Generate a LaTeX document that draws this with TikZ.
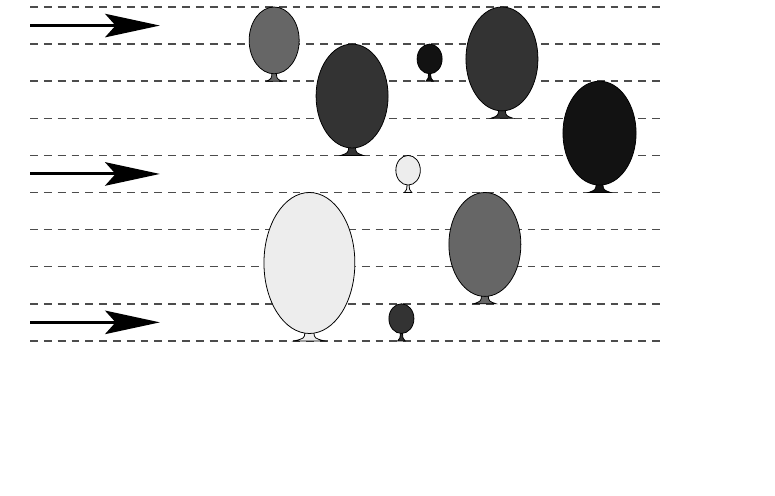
\documentclass[tikz,border=0pt]{standalone}
\usetikzlibrary{arrows.meta}

\tikzset{
  guide/.style={draw=black!70, line width=1.2pt, dash pattern=on 6pt off 4.6pt},
  windarrow/.style={line width=2.3pt, -{Stealth[length=42pt,width=18pt,inset=8pt]}},
  balloonedge/.style={draw=black, line width=0.6pt}
}

% cx, top, size, x radius, fill
\newcommand{\balloon}[5]{%
  \draw[balloonedge, fill=#5] ({#1-0.03*#3},{#2-#3+0.22}) .. controls ({#1-0.035*#3},{#2-#3+0.07}) .. ({#1-0.1*#3},{#2-#3})
    -- ({#1+0.1*#3},{#2-#3}) .. controls ({#1+0.035*#3},{#2-#3+0.07}) .. ({#1+0.03*#3},{#2-#3+0.22}) -- cycle;
  \draw[balloonedge, fill=#5] ({#1},{#2-#3/2+0.1}) ellipse [x radius=#4, y radius={#3/2-0.1}];
}

\begin{document}
\begin{tikzpicture}
        \useasboundingbox (-0.81,-4.154) rectangle (20.08,9.189);

        \draw[guide] (0,9) -- (17,9);
        \draw[guide] (0,8) -- (17,8);
        \draw[guide] (0,7) -- (17,7);
        \draw[guide] (0,6) -- (17,6);
        \draw[guide] (0,5) -- (17,5);
        \draw[guide] (0,4) -- (17,4);
        \draw[guide] (0,3) -- (17,3);
        \draw[guide] (0,2) -- (17,2);
        \draw[guide] (0,1) -- (17,1);
        \draw[guide] (0,0) -- (17,0);

        \draw[windarrow] (0,8.5) -- (3.5,8.5);
        \draw[windarrow] (0,4.5) -- (3.5,4.5);
        \draw[windarrow] (0,0.5) -- (3.5,0.5);

        \balloon{6.58}{9}{2}{0.674}{black!60}
        \balloon{8.68}{8}{3}{0.97}{black!80}
        \balloon{10.77}{8}{1}{0.337}{black!93}
        \balloon{12.72}{9}{3}{0.97}{black!80}
        \balloon{15.35}{7}{3}{0.985}{black!93}
        \balloon{10.19}{5}{1}{0.33}{black!7}
        \balloon{7.53}{4}{4}{1.225}{black!7}
        \balloon{12.26}{4}{3}{0.97}{black!60}
        \balloon{10.01}{1}{1}{0.337}{black!80}
    \end{tikzpicture}
\end{document}
